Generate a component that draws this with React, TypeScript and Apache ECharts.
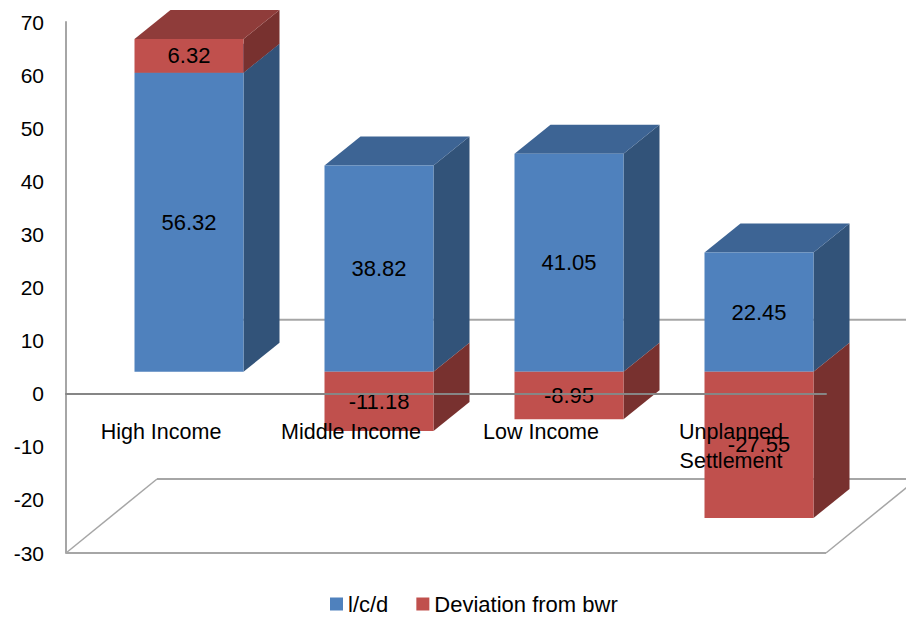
import React, { useEffect, useRef } from "react";
import * as echarts from "echarts";

const categories = ["High Income", "Middle Income", "Low Income", "Unplanned\nSettlement"];
const lcdValues = [56.32, 38.82, 41.05, 22.45];
const deviationValues = [6.32, -11.18, -8.95, -27.55];
const FONT = '"Liberation Sans", Arial, sans-serif';

// Pseudo-3D projection offsets, in pixels
const BAR_SHIFT_X = 28;
const BAR_SHIFT_Y = -22;
const BAR_WIDTH = 109;
const DEPTH_X = 36;
const DEPTH_Y = -29;
const WALL_X = 91;
const WALL_Y = -74;

function barRenderer(colors: { front: string; side: string; cap: string }, baseOf: (i: number, v: number) => number) {
  return (_params: any, api: any) => {
    const i = api.value(0);
    const v = api.value(1);
    const base = baseOf(i, v);
    const a = api.coord([i, base]);
    const b = api.coord([i, base + v]);
    const x1 = a[0] + BAR_SHIFT_X - BAR_WIDTH / 2;
    const x2 = x1 + BAR_WIDTH;
    const yBase = a[1] + BAR_SHIFT_Y;
    const yEnd = b[1] + BAR_SHIFT_Y;
    const top = Math.min(yBase, yEnd);
    const bottom = Math.max(yBase, yEnd);
    const children: any[] = [
      {
        type: "polygon",
        shape: { points: [[x2, top], [x2 + DEPTH_X, top + DEPTH_Y], [x2 + DEPTH_X, bottom + DEPTH_Y], [x2, bottom]] },
        style: { fill: colors.side },
      },
    ];
    if (v > 0) {
      children.push({
        type: "polygon",
        shape: { points: [[x1, top], [x1 + DEPTH_X, top + DEPTH_Y], [x2 + DEPTH_X, top + DEPTH_Y], [x2, top]] },
        style: { fill: colors.cap },
      });
    }
    children.push({
      type: "rect",
      shape: { x: x1, y: top, width: BAR_WIDTH, height: bottom - top },
      style: { fill: colors.front },
    });
    children.push({
      type: "text",
      x: (x1 + x2) / 2,
      y: (top + bottom) / 2,
      style: { text: v.toFixed(2), fill: "#000", font: `22px ${FONT}`, align: "center", verticalAlign: "middle" },
    });
    return { type: "group", children };
  };
}

function wallRenderer(params: any, api: any) {
  const cs = params.coordSys;
  const left = cs.x;
  const right = cs.x + cs.width;
  const yFloor = api.coord([0, -30])[1];
  const yZero = api.coord([0, 0])[1];
  const line = (x1: number, y1: number, x2: number, y2: number, w: number) => ({
    type: "line",
    shape: { x1, y1, x2, y2 },
    style: { stroke: "#a6a6a6", lineWidth: w },
  });
  return {
    type: "group",
    children: [
      line(left + WALL_X, yZero + WALL_Y, right + WALL_X, yZero + WALL_Y, 2),
      line(left + WALL_X, yFloor + WALL_Y, right + WALL_X, yFloor + WALL_Y, 2),
      line(left, yFloor, left + WALL_X, yFloor + WALL_Y, 1.5),
      line(right, yFloor, right + WALL_X, yFloor + WALL_Y, 1.5),
      line(left, yFloor, right, yFloor, 2),
    ],
  };
}

export default function App() {
  const ref = useRef<HTMLDivElement>(null);
  useEffect(() => {
    const chart = echarts.init(ref.current!, undefined, { renderer: "svg" });
    chart.setOption({
      animation: false,
      backgroundColor: "#fff",
      grid: { left: 66, right: 80, top: 22, bottom: 64, outerBoundsMode: "none" },
      legend: {
        left: 325,
        top: 588,
        itemWidth: 13,
        itemHeight: 13,
        itemGap: 28,
        icon: "rect",
        textStyle: { fontFamily: FONT, fontSize: 22, color: "#000", padding: [0, 0, 0, 0] },
        data: ["l/c/d", "Deviation from bwr"],
      },
      xAxis: {
        type: "category",
        data: categories,
        z: 10,
        axisLine: { onZero: true, lineStyle: { color: "#868686", width: 2 } },
        axisTick: { show: false },
        axisLabel: { interval: 0, margin: -136, color: "#000", fontFamily: FONT, fontSize: 21.5, lineHeight: 29 },
      },
      yAxis: {
        type: "value",
        min: -30,
        max: 70,
        interval: 10,
        splitLine: { show: false },
        axisTick: { show: false },
        axisLine: { show: true, onZero: false, lineStyle: { color: "#a6a6a6", width: 2 } },
        axisLabel: { margin: 22, color: "#000", fontFamily: FONT, fontSize: 21 },
      },
      series: [
        { type: "custom", name: "walls", z: 1, silent: true, renderItem: wallRenderer, data: [[0, 0]] },
        {
          type: "custom",
          name: "l/c/d",
          z: 2,
          silent: true,
          itemStyle: { color: "#4f81bd" },
          renderItem: barRenderer({ front: "#4f81bd", side: "#325379", cap: "#3d6494" }, () => 0),
          data: lcdValues.map((v, i) => [i, v]),
        },
        {
          type: "custom",
          name: "Deviation from bwr",
          z: 3,
          silent: true,
          itemStyle: { color: "#c0504d" },
          renderItem: barRenderer({ front: "#c0504d", side: "#78312f", cap: "#8f3c3a" }, (i, v) => (v > 0 ? lcdValues[i] : 0)),
          data: deviationValues.map((v, i) => [i, v]),
        },
      ],
    });
    return () => chart.dispose();
  }, []);
  return <div ref={ref} style={{ position: "fixed", left: 0, top: 0, width: 906, height: 617 }} />;
}
